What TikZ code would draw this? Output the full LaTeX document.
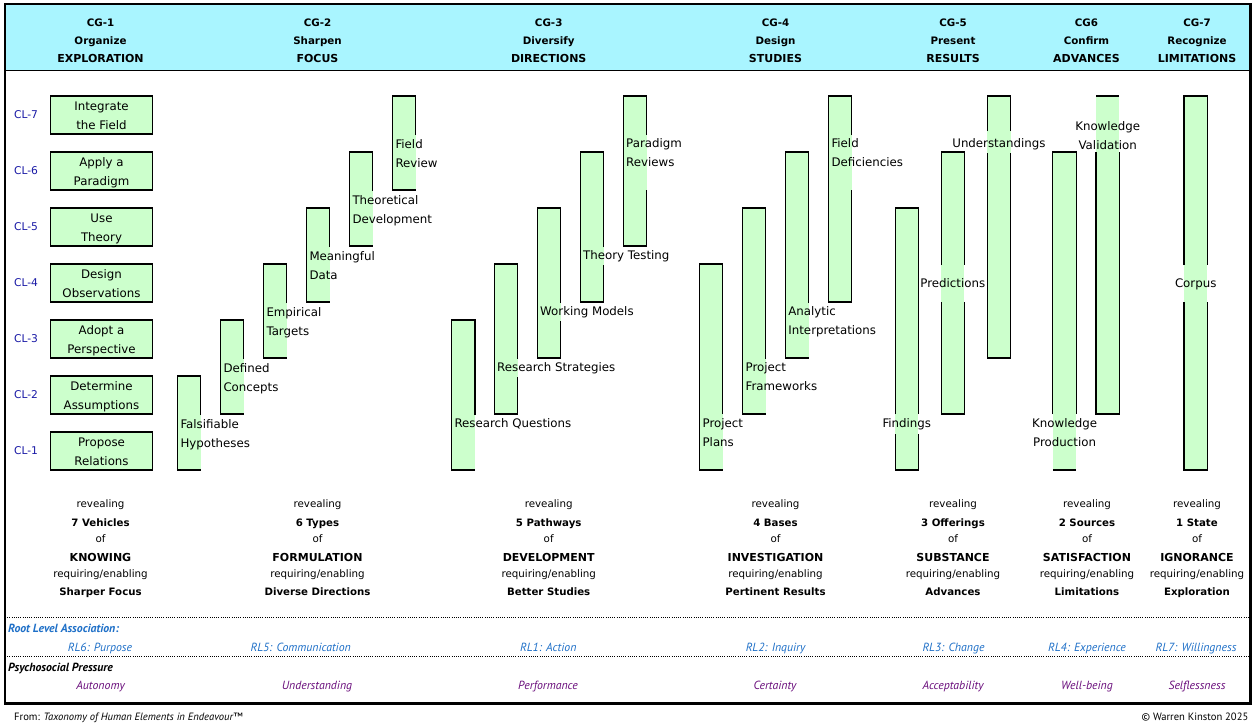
\documentclass[tikz,border=0pt]{standalone}
\usepackage{fontspec}
\setmainfont{DejaVu Sans}
\newfontfamily\ptsans{PT Sans}
\definecolor{headcyan}{HTML}{A9F5FF}
\definecolor{barfill}{HTML}{CCFFCC}
\definecolor{clblue}{HTML}{1A1AA6}
\definecolor{rlblue}{HTML}{1F70C8}
\definecolor{prpurple}{HTML}{6A0E7C}
% bar with right edge hidden between #4 and #5
\newcommand\cgbarR[5]{%
  \fill[barfill] (#1,#2) rectangle ({#1+23.3},#3);
  \draw[barline] ({#1+23.3},#4) -- ({#1+23.3},#2) -- (#1,#2) -- (#1,#3) -- ({#1+23.3},#3) -- ({#1+23.3},#5);
}
% bar with both edges hidden between #4 and #5
\newcommand\cgbarLR[5]{%
  \fill[barfill] (#1,#2) rectangle ({#1+23.3},#3);
  \draw[barline] (#1,#4) -- (#1,#2) -- ({#1+23.3},#2) -- ({#1+23.3},#4);
  \draw[barline] (#1,#5) -- (#1,#3) -- ({#1+23.3},#3) -- ({#1+23.3},#5);
}
\begin{document}
\begin{tikzpicture}[x=1pt,y=-1pt,
  barline/.style={line width=1.1pt, line join=miter},
  hd/.style={anchor=base, inner sep=0pt, font=\fontsize{10.3}{12}\selectfont\bfseries},
  hdcap/.style={anchor=base, inner sep=0pt, font=\fontsize{11}{13}\selectfont\bfseries},
  rev/.style={anchor=base, inner sep=0pt, font=\fontsize{10.3}{12}\selectfont},
  revb/.style={anchor=base, inner sep=0pt, font=\fontsize{10.2}{12}\selectfont\bfseries},
  revcap/.style={anchor=base, inner sep=0pt, font=\fontsize{11}{13}\selectfont\bfseries},
  cl/.style={anchor=base, inner sep=0pt, text=clblue, font=\fontsize{10.7}{12}\selectfont},
  lbox/.style={draw, line width=1.1pt, fill=barfill, minimum width=102.4pt, minimum height=38pt, inner sep=0pt},
  ltext/.style={inner sep=0pt, align=center, font=\fontsize{11.8}{18.5}\selectfont},
  blab/.style={inner sep=0pt, align=left, anchor=north west, font=\fontsize{11.8}{19}\selectfont},
  blabc/.style={blab, align=center, anchor=north},
  rlh/.style={anchor=base west, inner sep=0pt, text=rlblue, font=\ptsans\fontsize{11.8}{14}\selectfont\bfseries\itshape},
  rl/.style={anchor=base, inner sep=0pt, text=rlblue, font=\ptsans\fontsize{11.8}{14}\selectfont\itshape},
  psh/.style={rlh, text=black},
  ps/.style={rl, text=prpurple},
  foot/.style={inner sep=0pt, font=\ptsans\fontsize{10.6}{12}\selectfont},
  dotline/.style={line width=0.9pt, dash pattern=on 1pt off 1.2pt}
]
\useasboundingbox (0,0) rectangle (1253,724);
\fill[white] (0,0) rectangle (1253,724);
% header band
\fill[headcyan] (5,3.8) rectangle (1250.5,70.5);
\draw[line width=1.3pt] (5,70.5) -- (1250.5,70.5);
\foreach \x/\a/\b/\c/\n in {100.5/CG-1/Organize/EXPLORATION/1, 317.5/CG-2/Sharpen/FOCUS/2, 548.7/CG-3/Diversify/DIRECTIONS/3, 775.5/CG-4/Design/STUDIES/4, 953/CG-5/Present/RESULTS/5, 1086.5/CG6/Confirm/ADVANCES/6, 1197/CG-7/Recognize/LIMITATIONS/7}{
  \node[hd] (hda\n) at (\x,26.7) {\a};
  \node[hd] (hdb\n) at (\x,44) {\b};
  \node[hdcap] (hdc\n) at (\x,62.3) {\c};
}
% CL labels and left boxes
\foreach \k/\ta/\tb in {7/Integrate/the Field, 6/Apply a/Paradigm, 5/Use/Theory, 4/Design/Observations, 3/Adopt a/Perspective, 2/Determine/Assumptions, 1/Propose/Relations}{
  \pgfmathsetmacro\yc{115+(7-\k)*56}
  \node[cl] (cl\k) at (26,\yc+3.9) {CL-\k};
  \node[lbox] (box\k) at (101.5,\yc) {};
  \node[ltext] (boxt\k) at (101.5,\yc+1.5) {\strut\ta\\\strut\tb};
}
% CG-2 bars
\cgbarR{177.3}{376}{470}{415}{470}
\node[blab] (fh) at (180.3,415) {\strut Falsifiable\\\strut Hypotheses};
\cgbarR{220.3}{320}{414}{359}{414}
\node[blab] (dc) at (223.3,359) {\strut Defined\\\strut Concepts};
\cgbarR{263.3}{264}{358}{303}{358}
\node[blab] (et) at (266.3,303) {\strut Empirical\\\strut Targets};
\cgbarR{306.3}{208}{302}{247}{302}
\node[blab] (md) at (309.3,247) {\strut Meaningful\\\strut Data};
\cgbarR{349.3}{152}{246}{191}{246}
\node[blab] (td) at (352.3,191) {\strut Theoretical\\\strut Development};
\cgbarR{392.3}{96}{190}{135}{190}
\node[blab] (fr) at (395.3,135) {\strut Field\\\strut Review};
% CG-3 bars
\cgbarR{451.7}{320}{470}{415}{470}
\node[blab] (rq) at (454.3,414) {\strut Research Questions};
\cgbarR{494.3}{264}{414}{359}{377}
\node[blab] (rs) at (497,358) {\strut Research Strategies};
\cgbarR{537.3}{208}{358}{303}{321}
\node[blab] (wm) at (540,302) {\strut Working Models};
\cgbarR{580.3}{152}{302}{247}{265}
\node[blab] (tt) at (583,246) {\strut Theory Testing};
\cgbarR{623.3}{96}{246}{135}{190}
\node[blab] (pr) at (626,134) {\strut Paradigm\\\strut Reviews};
% CG-4 bars
\cgbarR{699.4}{264}{470}{414}{470}
\node[blab] (pp) at (702.4,414) {\strut Project\\\strut Plans};
\cgbarR{742.5}{208}{414}{359}{414}
\node[blab] (pf) at (745.5,358) {\strut Project\\\strut Frameworks};
\cgbarR{785.2}{152}{358}{303}{358}
\node[blab] (ai) at (788.2,302) {\strut Analytic\\\strut Interpretations};
\cgbarR{828.3}{96}{302}{135}{190}
\node[blab] (fd) at (831.3,134) {\strut Field\\\strut Deficiencies};
% CG-5 bars
\cgbarLR{895.1}{208}{470}{414}{434}
\node[blabc] (fi) at (906.8,414) {\strut Findings};
\cgbarLR{941.1}{152}{414}{265}{302}
\node[blabc] (pd) at (952.8,274) {\strut Predictions};
\cgbarLR{987.2}{96}{358}{131}{153}
\node[blabc] (un) at (998.9,134) {\strut Understandings};
% CG6 bars
\cgbarLR{1052.9}{152}{470}{414}{470}
\node[blabc] (kp) at (1064.6,414) {\strut Knowledge\\\strut Production};
\cgbarLR{1096}{96}{414}{96}{152}
\node[blabc] (kv) at (1107.7,116.5) {\strut Knowledge\\\strut Validation};
% CG-7 bar
\cgbarLR{1184}{96}{470}{265}{302}
\node[blabc] (co) at (1195.7,274) {\strut Corpus};
% bottom block
\foreach \x/\num/\cap/\req/\n in {100.5/7 Vehicles/KNOWING/Sharper Focus/1, 317.5/6 Types/FORMULATION/Diverse Directions/2, 548.7/5 Pathways/DEVELOPMENT/Better Studies/3, 775.5/4 Bases/INVESTIGATION/Pertinent Results/4, 953/3 Offerings/SUBSTANCE/Advances/5, 1087/2 Sources/SATISFACTION/Limitations/6, 1197/1 State/IGNORANCE/Exploration/7}{
  \node[rev] (rva\n) at (\x,507) {revealing};
  \node[revb] (rvb\n) at (\x,526) {\num};
  \node[rev] (rvc\n) at (\x,542.5) {of};
  \node[revcap] (rvd\n) at (\x,561.5) {\cap};
  \node[rev] (rve\n) at (\x,577.5) {requiring/enabling};
  \node[revb] (rvf\n) at (\x,595.5) {\req};
}
% dotted separators
\coordinate (d1l) at (5,617); \coordinate (d1r) at (1250.5,617);
\coordinate (d2l) at (5,656.5); \coordinate (d2r) at (1250.5,656.5);
\draw[dotline] (d1l) -- (d1r);
\draw[dotline] (d2l) -- (d2r);
% root level association
\node[rlh] (rlhead) at (8,632.3) {Root Level Association:};
\foreach \x/\t/\n in {100/RL6: Purpose/1, 300.7/RL5: Communication/2, 548.3/RL1: Action/3, 775.5/RL2: Inquiry/4, 953.5/RL3: Change/5, 1087/RL4: Experience/6, 1196/RL7: Willingness/7}{
  \node[rl] (rl\n) at (\x,651.7) {\t};
}
% psychosocial pressure
\node[psh] (pshead) at (8,671.7) {Psychosocial Pressure};
\foreach \x/\t/\n in {100.5/Autonomy/1, 317/Understanding/2, 548/Performance/3, 775/Certainty/4, 953/Acceptability/5, 1087/Well-being/6, 1197/Selflessness/7}{
  \node[ps] (ps\n) at (\x,689) {\t};
}
% frame
\draw[line width=2.5pt] (5,3.8) rectangle (1250.5,703.5);
% footer
\node[foot, anchor=base west] (from) at (14,720) {From: \textit{Taxonomy of Human Elements in Endeavour™}};
\node[foot, anchor=base east] (copy) at (1248.5,720) {© Warren Kinston 2025};
\end{tikzpicture}
\end{document}
